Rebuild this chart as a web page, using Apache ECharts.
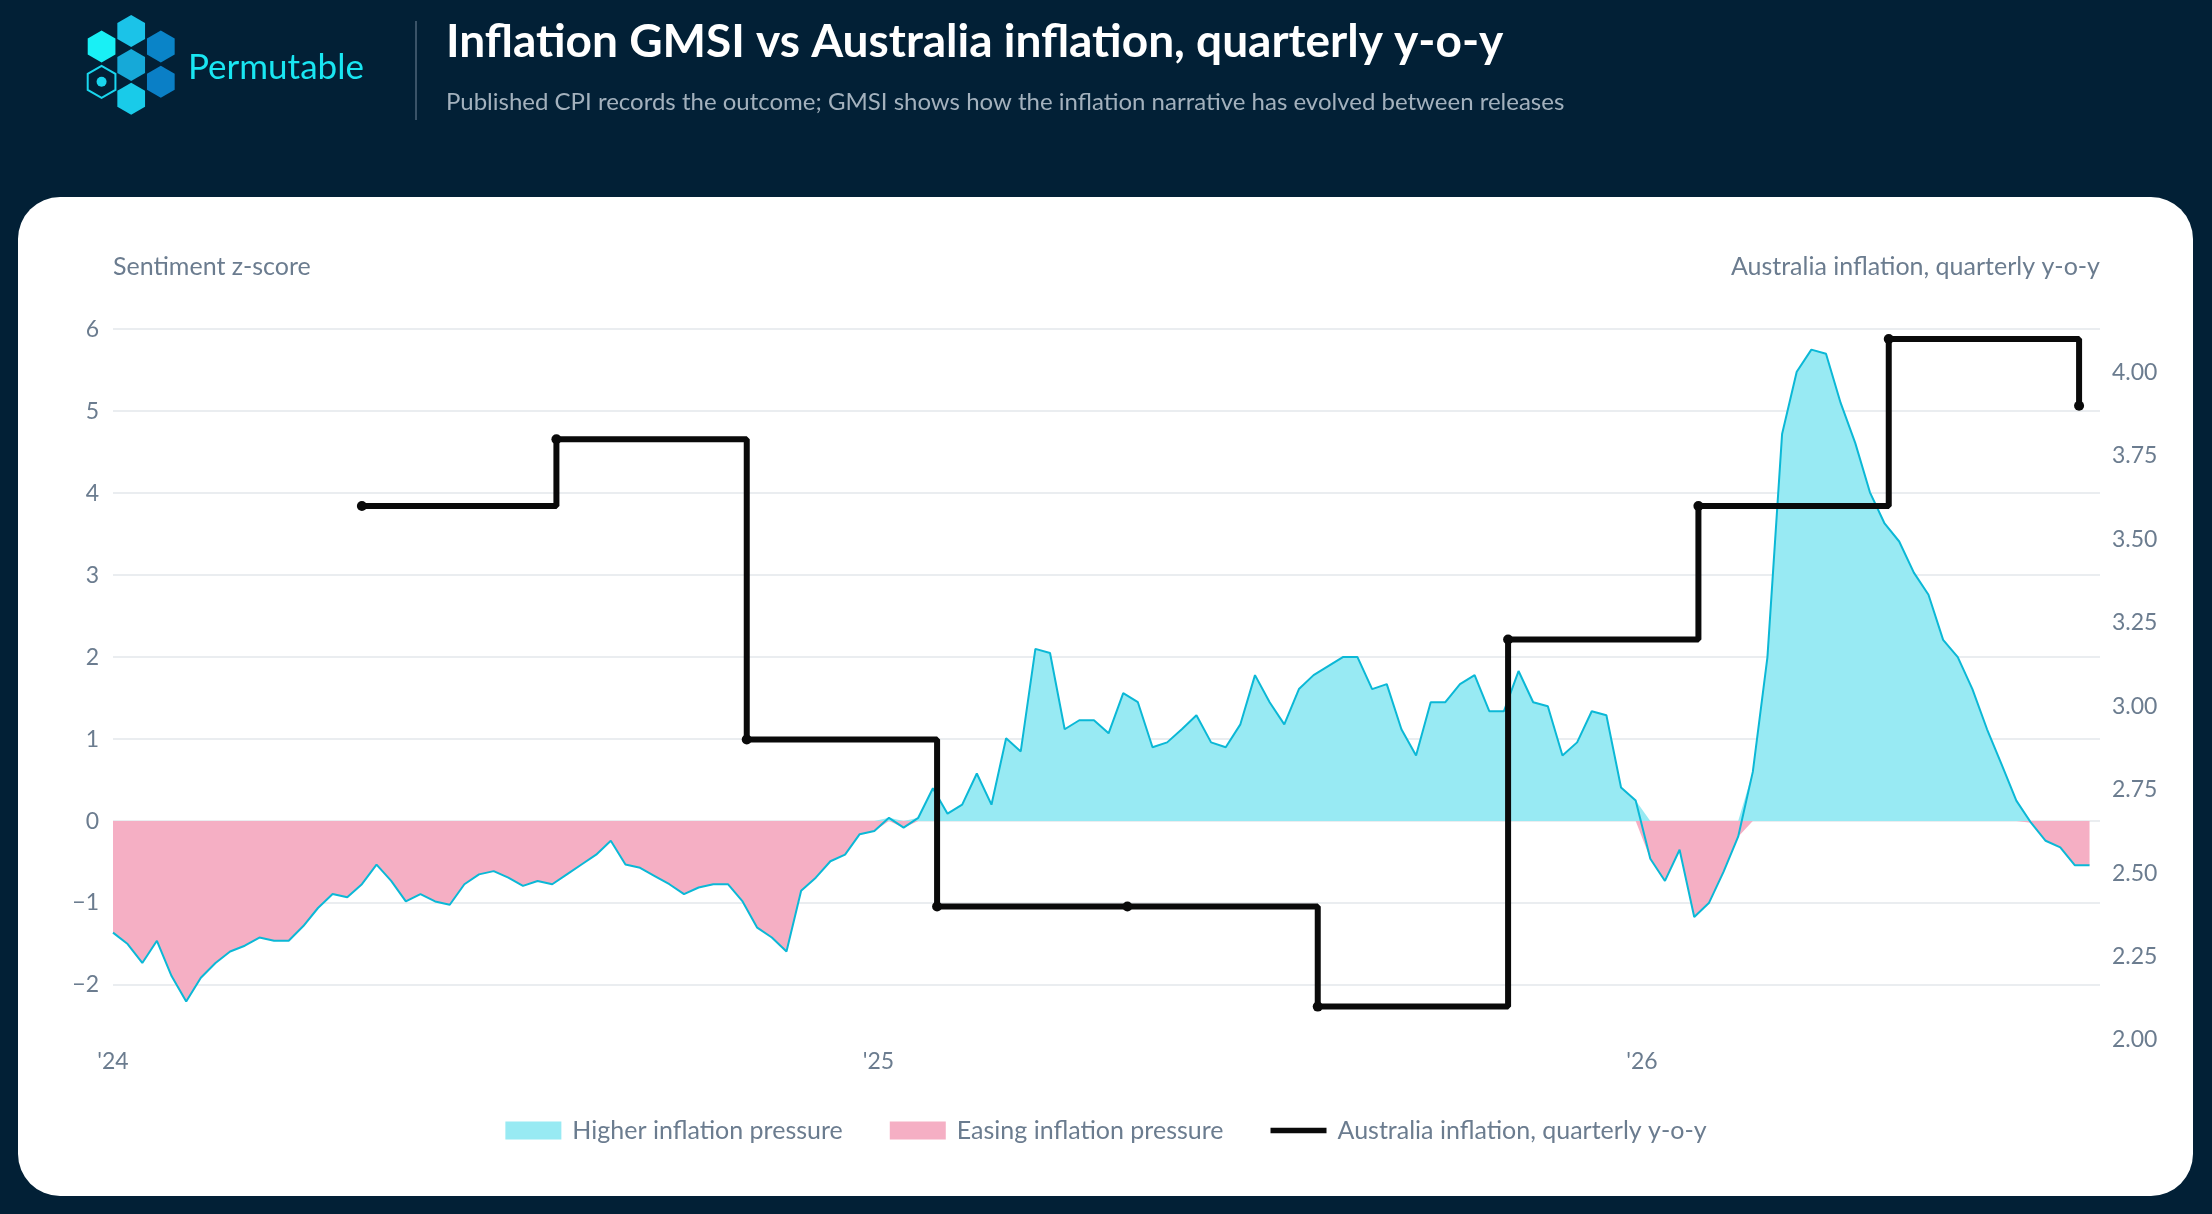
<!DOCTYPE html>
<html><head><meta charset="utf-8">
<script src="https://cdn.jsdelivr.net/npm/echarts@6/dist/echarts.min.js"></script>
<style>html,body{margin:0;padding:0;background:#022036;}#c{width:2212px;height:1214px;}</style>
</head><body><div id="c"></div>
<script>
// Weekly GMSI readings starting 2024-01-01
const gmsiStart = '2024-01-01';
const gmsiValues = [
-1.36,-1.50,-1.73,-1.46,-1.89,-2.20,-1.91,-1.73,-1.59,-1.52,-1.42,-1.46,-1.46,-1.28,-1.06,-0.89,-0.93,-0.77,-0.53,-0.73,
-0.98,-0.89,-0.98,-1.02,-0.77,-0.65,-0.61,-0.69,-0.79,-0.73,-0.77,-0.65,-0.53,-0.41,-0.24,-0.53,-0.57,-0.67,-0.77,-0.89,
-0.81,-0.77,-0.77,-0.98,-1.30,-1.42,-1.59,-0.85,-0.69,-0.49,-0.41,-0.16,-0.12,0.04,-0.08,0.04,0.40,0.09,0.20,0.58,
0.20,1.01,0.85,2.10,2.05,1.12,1.23,1.23,1.07,1.56,1.45,0.90,0.96,1.12,1.29,0.96,0.90,1.18,1.78,1.45,
1.18,1.61,1.78,1.89,2.00,2.00,1.61,1.67,1.12,0.80,1.45,1.45,1.67,1.78,1.34,1.34,1.83,1.45,1.40,0.80,
0.96,1.34,1.29,0.41,0.25,-0.46,-0.73,-0.35,-1.17,-1.00,-0.62,-0.19,0.60,2.00,4.72,5.48,5.75,5.70,5.10,4.61,
4.01,3.63,3.41,3.03,2.76,2.21,2.00,1.61,1.12,0.69,0.25,-0.02,-0.24,-0.32,-0.54,-0.54
];
const cpiDates = ['2024-04-29','2024-07-31','2024-10-30','2025-01-29','2025-04-30','2025-07-30','2025-10-29','2026-01-28','2026-04-29','2026-07-29'];
const cpiValues = [3.6,3.8,2.9,2.4,2.4,2.1,3.2,3.6,4.1,3.9];
const yearTicks = ['2024-01-01','2025-01-01','2026-01-01'];
const leftTicks = [-2,-1,0,1,2,3,4,5,6];
const rightTicks = [2.00,2.25,2.50,2.75,3.00,3.25,3.50,3.75,4.00];
const legendNames = ['Higher inflation pressure','Easing inflation pressure','Australia inflation, quarterly y-o-y'];

const ts = s=>new Date(s+'T00:00:00Z').getTime();
const t0 = ts(gmsiStart);
const gmsi = gmsiValues.map((v,i)=>[t0+i*7*86400000, v]);
const pos = gmsi.map(d=>[d[0], Math.max(d[1],0)]);
const neg = gmsi.map(d=>[d[0], Math.min(d[1],0)]);
const cpi = cpiDates.map((d,i)=>[ts(d), cpiValues[i]]);

function hex(cx,cy,r){const p=[];for(let i=0;i<6;i++){const a=Math.PI/180*(60*i+30);p.push([cx+r*Math.cos(a),cy+r*Math.sin(a)]);}return p;}
const S=1.4107, R=16;
const hexes=[[72,33,'#19f0f5'],[93,22,'#1bc3e8'],[93,46,'#16a9d8'],[93,70,'#19cbe9'],[114,33,'#0a84c8'],[114,58,'#0a7fc6']];
const FONT='Lato, "Open Sans", sans-serif';
const graphics=[
 {type:'rect',shape:{x:18,y:197,width:2175,height:999,r:42},style:{fill:'#ffffff'},z:-10},
 {type:'line',shape:{x1:416,y1:21,x2:416,y2:120},style:{stroke:'#3a5368',lineWidth:2}},
 {type:'text',x:446,y:42,style:{text:'Inflation GMSI vs Australia inflation, quarterly y-o-y',fill:'#ffffff',font:'bold 46px '+FONT,verticalAlign:'middle'}},
 {type:'text',x:446,y:102,style:{text:'Published CPI records the outcome; GMSI shows how the inflation narrative has evolved between releases',fill:'#a3b1bd',font:'24px '+FONT,verticalAlign:'middle'}},
 {type:'text',x:188,y:68,style:{text:'Permutable',fill:'#19e6f2',font:'35px '+FONT,verticalAlign:'middle'}},
 {type:'polygon',shape:{points:hex(72*S,58*S,R)},style:{fill:'none',stroke:'#19d6ee',lineWidth:2}},
 {type:'circle',shape:{cx:72*S,cy:58*S,r:5},style:{fill:'#19d6ee'}}
];
hexes.forEach(h=>graphics.push({type:'polygon',shape:{points:hex(h[0]*S,h[1]*S,R)},style:{fill:h[2]}}));

const lbl={color:'#6b7c8f',fontSize:23,fontFamily:FONT};
const chart=echarts.init(document.getElementById('c'));
chart.setOption({
 animation:false,
 backgroundColor:'#022036',
 graphic:graphics,
 grid:{left:113,right:112,top:323,bottom:174},
 legend:{data:[{name:legendNames[0],icon:'rect'},{name:legendNames[1],icon:'rect'},{name:legendNames[2],icon:'path://M0,0H10V1H0Z'}],
   top:1113,left:'center',itemWidth:56,itemHeight:18,itemGap:47,
   textStyle:{color:'#6b7c8f',fontSize:25,fontFamily:FONT,padding:[0,0,0,6]}},
 xAxis:{type:'value',min:ts('2024-01-01'),max:ts('2026-08-08'),
   axisLine:{show:false},axisTick:{show:false,customValues:yearTicks.map(ts)},splitLine:{show:false},
   axisLabel:Object.assign({},lbl,{margin:10,customValues:yearTicks.map(ts),formatter:v=>"'"+String(new Date(v).getUTCFullYear()).slice(2)})},
 yAxis:[
  {type:'value',min:-2.67,max:6.075,name:'Sentiment z-score',nameLocation:'end',nameGap:44,
   nameTextStyle:Object.assign({},lbl,{fontSize:25,align:'left',padding:[0,0,0,0]}),
   axisLine:{show:false},axisTick:{show:false,customValues:leftTicks},
   splitLine:{show:true,lineStyle:{color:'#e3e7eb',width:1.5}},
   axisLabel:Object.assign({},lbl,{margin:14,customValues:leftTicks,formatter:v=>v<0?'\u2212'+Math.abs(v):String(v)})},
  {type:'value',min:2.0,max:4.148,name:'Australia inflation, quarterly y-o-y',nameLocation:'end',nameGap:44,
   nameTextStyle:Object.assign({},lbl,{fontSize:25,align:'right',padding:[0,0,0,0]}),
   axisLine:{show:false},axisTick:{show:false,customValues:rightTicks},splitLine:{show:false},
   axisLabel:Object.assign({},lbl,{margin:12,customValues:rightTicks,formatter:v=>v.toFixed(2)})}
 ],
 series:[
  {name:legendNames[0],type:'line',data:pos,showSymbol:false,lineStyle:{width:0},itemStyle:{color:'#98eaf3'},areaStyle:{color:'#98eaf3',opacity:1},z:1},
  {name:legendNames[1],type:'line',data:neg,showSymbol:false,lineStyle:{width:0},itemStyle:{color:'#f5afc4'},areaStyle:{color:'#f5afc4',opacity:1},z:1},
  {name:'GMSI',type:'line',data:gmsi,showSymbol:false,lineStyle:{color:'#0bb8d6',width:2},z:2},
  {name:legendNames[2],type:'line',yAxisIndex:1,step:'end',data:cpi,symbol:'circle',symbolSize:10,
   itemStyle:{color:'#0a0a0a'},lineStyle:{color:'#0a0a0a',width:6},z:3}
 ]
});
</script></body></html>
